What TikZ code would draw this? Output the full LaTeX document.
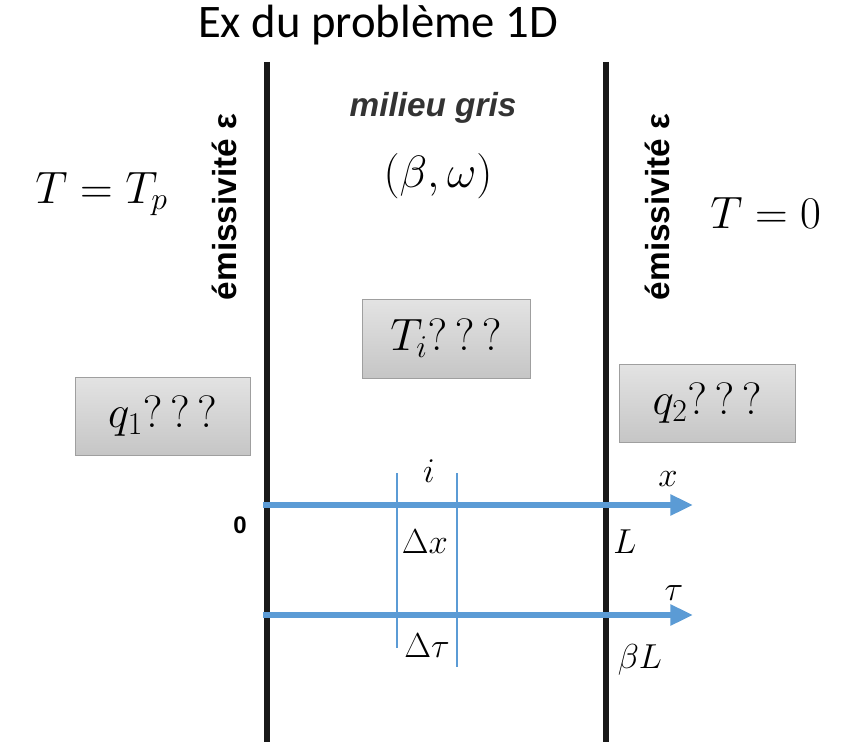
\RequirePackage{fix-cm}
\documentclass[tikz,border=0pt]{standalone}
\usepackage{fontspec}
\usepackage{amsmath}
\setmainfont{Carlito}
\newfontfamily\labelfont{Liberation Sans}
\usetikzlibrary{arrows.meta}
\definecolor{axisblue}{HTML}{5B9BD5}

\tikzset{
  mathbig/.style={font=\fontsize{34}{40}\selectfont},
  mathsmall/.style={font=\fontsize{26}{30}\selectfont},
  qbox/.style={draw=gray!75, top color=gray!22, bottom color=gray!45, inner sep=0pt, mathbig},
  wall/.style={line width=4pt, black!90},
  axis/.style={line width=5pt, axisblue, -{Triangle[length=17pt,width=15pt]}},
  cell/.style={line width=0.9pt, axisblue},
  emis/.style={rotate=90, font=\labelfont\bfseries\fontsize{25}{30}\selectfont},
}

\begin{document}
\begin{tikzpicture}[x=0.75pt, y=-0.75pt]
    \useasboundingbox (0,0) rectangle (854,742);

    % Title
    \node[font=\fontsize{35}{42}\selectfont, anchor=base] (title) at (378,38) {Ex du problème 1D};

    % Walls
    \coordinate (wallLtop) at (267,62);
    \coordinate (wallLbot) at (267,742);
    \coordinate (wallRtop) at (606,62);
    \coordinate (wallRbot) at (606,742);
    \draw[wall] (wallLtop) -- (wallLbot);
    \draw[wall] (wallRtop) -- (wallRbot);
    \node[emis] (emisL) at (224,207) {émissivité ε};
    \node[emis] (emisR) at (657,207) {émissivité ε};

    % Medium
    \node[font=\labelfont\bfseries\itshape\fontsize{25}{30}\selectfont, text=black!80, anchor=base] (milieu) at (433,117) {milieu gris};
    \node[mathbig, anchor=base] (params) at (438,187) {$(\beta,\omega)$};

    % Boundary temperatures
    \node[mathbig, anchor=base west, inner sep=0pt] (Tp) at (35,203) {$T = T_p$};
    \node[mathbig, anchor=base west, inner sep=0pt] (T0) at (710,228) {$T = 0$};

    % Unknowns
    \node[qbox, minimum width=126pt, minimum height=59pt] (Ti) at (446,338.5) {$T_i?\,?\,?$};
    \node[qbox, minimum width=131pt, minimum height=58.5pt] (q1) at (162.5,416) {$q_1?\,?\,?$};
    \node[qbox, minimum width=132pt, minimum height=58.5pt] (q2) at (707,403) {$q_2?\,?\,?$};

    % Axes
    \coordinate (xstart) at (263,505);
    \coordinate (xend) at (693,505);
    \coordinate (tstart) at (263,615);
    \coordinate (tend) at (693,615);
    \draw[axis] (xstart) -- (xend);
    \draw[axis] (tstart) -- (tend);

    % Cell i
    \coordinate (cellLtop) at (397,473);
    \coordinate (cellLbot) at (397,648);
    \coordinate (cellRtop) at (457,473);
    \coordinate (cellRbot) at (457,667);
    \draw[cell] (cellLtop) -- (cellLbot);
    \draw[cell] (cellRtop) -- (cellRbot);

    % Labels
    \node[font=\labelfont\bfseries\fontsize{18}{22}\selectfont, anchor=base] (zero) at (240,533) {0};
    \foreach \px/\py/\lab/\nm in {
        429/482/i/lbi,
        668/486/x/lbx,
        425/553/{\Delta x}/lbdx,
        625/553/L/lbL,
        674/600/\tau/lbtau,
        427/657/{\Delta\tau}/lbdtau,
        640/668/{\beta L}/lbbL
    } {
        \node[mathsmall, anchor=base] (\nm) at (\px,\py) {$\lab$};
    }
\end{tikzpicture}
\end{document}
